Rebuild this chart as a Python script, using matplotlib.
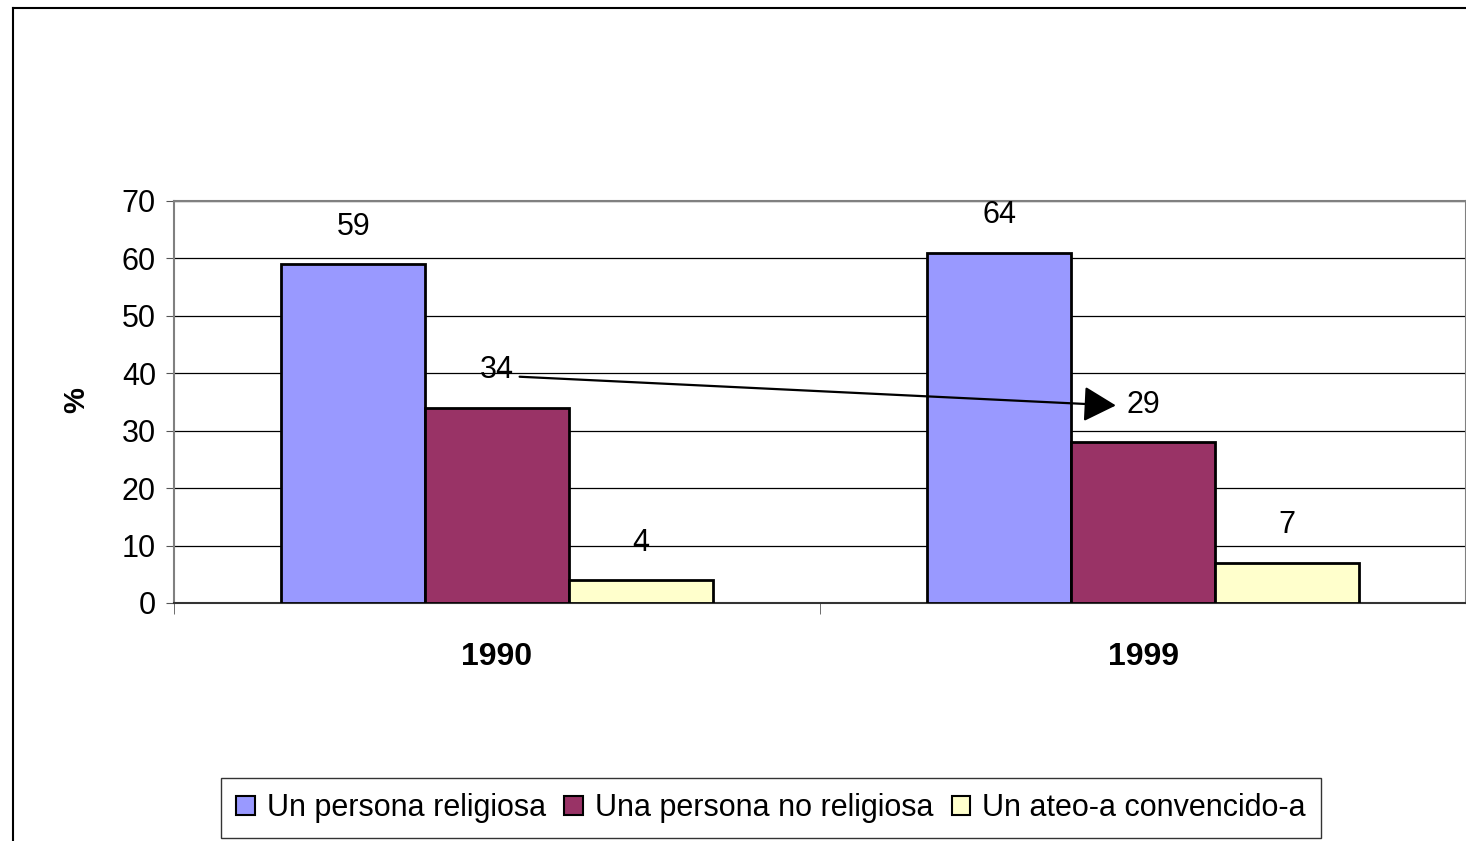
import numpy as np
import matplotlib
matplotlib.use("Agg")
import matplotlib.pyplot as plt
from matplotlib.lines import Line2D
from matplotlib.patches import Patch

# data
years = ["1990", "1999"]
series = ["Un persona religiosa", "Una persona no religiosa", "Un ateo-a convencido-a"]
bar_values = [
    [59, 61],   # religiosa (bar heights as drawn)
    [34, 28],   # no religiosa
    [4, 7],     # ateo
]
label_values = [
    [59, 64],
    [34, 29],
    [4, 7],
]
colors = ["#9999FF", "#993366", "#FFFFCC"]

plt.rcParams["font.family"] = ["Liberation Sans", "DejaVu Sans"]

fig = plt.figure(figsize=(14.66, 8.41), dpi=100)
ax = fig.add_axes([174 / 1466, 1 - 603 / 841, 1292 / 1466, 402 / 841])

x = np.arange(len(years))
width = 0.2225
offsets = [-width, 0, width]

label_pos = {}
for i, name in enumerate(series):
    ax.bar(x + offsets[i], bar_values[i], width, color=colors[i],
           edgecolor="black", linewidth=2, label=name, zorder=3)
    for j in range(len(years)):
        ax.annotate(str(label_values[i][j]), (x[j] + offsets[i], bar_values[i][j]),
                    xytext=(0, 27), textcoords="offset points",
                    ha="center", va="center", fontsize=22, zorder=5)
        label_pos[(i, j)] = (x[j] + offsets[i], bar_values[i][j])

# arrow from 34 label to 29 label
p0 = label_pos[(1, 0)]
p1 = label_pos[(1, 1)]
ax.annotate("", xy=(p1[0] - 0.042, p1[1] + 6.4), xytext=(p0[0] + 0.035, p0[1] + 5.4),
            arrowprops=dict(arrowstyle="-|>,head_length=1.0,head_width=0.55",
                            mutation_scale=20, color="black", lw=1.6,
                            shrinkA=0, shrinkB=0), zorder=6)

ax.set_xlim(-0.5, 1.5)
ax.set_ylim(0, 70)
ax.set_yticks(range(0, 71, 10))
ax.yaxis.grid(True, color="black", linewidth=0.9, zorder=0)
ax.set_axisbelow(True)

ax.set_xticks(x)
ax.set_xticklabels(years, fontsize=23, fontweight="bold")
ax.set_xticks([-0.5, 0.5, 1.5], minor=True)
ax.tick_params(axis="x", which="major", length=0, pad=28)
ax.tick_params(axis="x", which="minor", length=8, direction="out", color="#555555")
ax.tick_params(axis="y", labelsize=22, length=6, direction="out", pad=7, color="#555555")

for s in ["left", "top", "right"]:
    ax.spines[s].set_color("#808080")
    ax.spines[s].set_linewidth(1.5)
ax.spines["bottom"].set_color("#333333")
ax.spines["bottom"].set_linewidth(1.5)

fig.text(76 / 1466, 1 - 400 / 841, "%", rotation=90, ha="center", va="center",
         fontsize=21, fontweight="bold")

handles = [Patch(facecolor=c, edgecolor="black", linewidth=1.5) for c in colors]
leg = fig.legend(handles, series, loc="center", bbox_to_anchor=(771 / 1466, 1 - 808 / 841),
                 ncol=3, fontsize=22, frameon=True, fancybox=False,
                 handlelength=0.6, handleheight=0.6, handletextpad=0.4,
                 columnspacing=0.6, borderpad=0.5, borderaxespad=0)
leg.get_frame().set_edgecolor("black")
leg.get_frame().set_linewidth(1.0)

# outer chart frame (left and top edges visible)
fig.add_artist(Line2D([13 / 1466, 13 / 1466], [0, 1 - 8 / 841], transform=fig.transFigure,
                      color="black", linewidth=1.5))
fig.add_artist(Line2D([13 / 1466, 1], [1 - 8 / 841, 1 - 8 / 841], transform=fig.transFigure,
                      color="black", linewidth=1.5))

fig.savefig("out.png", dpi=100)
